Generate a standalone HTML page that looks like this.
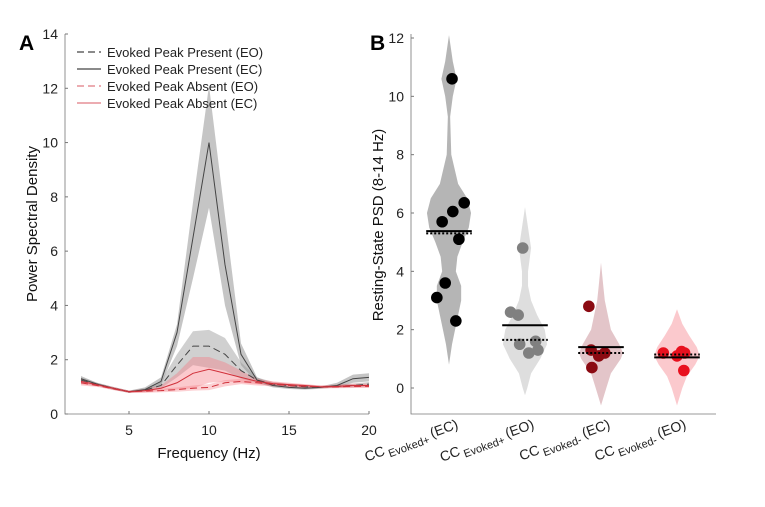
<!DOCTYPE html>
<html><head><meta charset="utf-8"><style>
body{margin:0;background:#fff;}
svg{display:block;font-family:"Liberation Sans",sans-serif;}
</style></head><body>
<svg id="fig" width="765" height="507" viewBox="0 0 765 507">
<g id="pa"></g>
<g id="pb"></g>
</svg>
<script>
// Panel A data
const freqs=[2,3,4,5,6,7,8,9,10,11,12,13,14,15,16,17,18,19,20];
const ecPresMean=[1.3,1.1,0.95,0.82,0.9,1.2,3.0,6.5,10.0,5.5,2.2,1.25,1.05,0.98,0.95,0.98,1.05,1.3,1.35];
const ecPresHi=[1.4,1.15,1.0,0.86,0.98,1.35,3.3,7.8,12.1,7.3,2.6,1.35,1.12,1.05,1.0,1.02,1.15,1.45,1.5];
const ecPresLo=[1.2,1.05,0.9,0.78,0.85,1.05,2.5,5.0,7.6,4.0,1.8,1.15,0.98,0.92,0.9,0.93,0.98,1.15,1.2];
const eoPresMean=[1.25,1.1,0.95,0.82,0.88,1.05,1.8,2.5,2.5,2.2,1.6,1.25,1.1,1.05,1.0,1.0,1.02,1.05,1.1];
const eoPresHi=[1.35,1.15,1.0,0.86,0.95,1.2,2.2,3.05,3.1,2.8,1.9,1.35,1.18,1.1,1.05,1.04,1.08,1.12,1.18];
const eoPresLo=[1.15,1.05,0.9,0.78,0.82,0.95,1.35,1.8,1.7,1.6,1.3,1.15,1.02,0.98,0.95,0.96,0.97,0.98,1.02];
const ecAbsMean=[1.2,1.08,0.95,0.82,0.86,0.95,1.15,1.5,1.65,1.5,1.35,1.2,1.12,1.08,1.05,1.0,1.02,1.05,1.05];
const ecAbsHi=[1.3,1.13,1.0,0.86,0.92,1.05,1.5,2.1,2.1,1.9,1.6,1.3,1.2,1.15,1.1,1.05,1.08,1.12,1.12];
const ecAbsLo=[1.1,1.02,0.9,0.78,0.8,0.85,0.9,0.95,1.15,1.2,1.15,1.1,1.05,1.0,0.98,0.95,0.96,0.98,0.98];
const eoAbsMean=[1.15,1.05,0.93,0.82,0.84,0.86,0.9,0.95,0.98,1.15,1.2,1.15,1.1,1.05,1.02,1.0,1.0,1.02,1.02];
const eoAbsHi=[1.25,1.1,0.98,0.86,0.9,0.93,0.98,1.05,1.1,1.25,1.3,1.25,1.18,1.12,1.08,1.05,1.05,1.08,1.08];
const eoAbsLo=[1.05,1.0,0.88,0.78,0.78,0.8,0.82,0.86,0.88,1.02,1.1,1.05,1.02,0.98,0.96,0.95,0.95,0.96,0.96];
const aYTicks=[0,2,4,6,8,10,12,14];
const aXTicks=[5,10,15,20];
// Panel B data
const groups=["Evoked+ (EC)","Evoked+ (EO)","Evoked- (EC)","Evoked- (EO)"];
const subs=["Evoked+","Evoked+","Evoked-","Evoked-"];
const conds=["(EC)","(EO)","(EC)","(EO)"];
const pts1=[10.6,5.7,6.05,6.35,5.1,3.6,3.1,2.3];
const pts2=[4.8,2.6,2.5,1.6,1.5,1.3,1.2];
const pts3=[2.8,1.3,1.1,1.2,0.7];
const pts4=[1.2,1.1,1.25,1.2,0.6];
const jit1=[0.04,-0.09,0.05,0.2,0.13,-0.05,-0.16,0.09];
const jit2=[-0.03,-0.19,-0.09,0.14,-0.07,0.17,0.05];
const jit3=[-0.16,-0.13,-0.03,0.05,-0.12];
const jit4=[-0.18,0.0,0.06,0.1,0.09];
const means=[5.38,2.15,1.4,1.05];
const medians=[5.3,1.65,1.2,1.15];
const vVals1=[12.1,11.2,10.6,10,9.3,8,7,6.5,6,5.5,5,4.5,4,3.5,3,2.5,2,1.5,0.8];
const vW1=[0,0.05,0.1,0.05,0.015,0.03,0.12,0.24,0.29,0.26,0.18,0.11,0.09,0.16,0.16,0.12,0.08,0.04,0];
const vVals2=[6.2,5.5,4.8,4,3.5,3,2.5,2,1.5,1,0.5,0,-0.25];
const vW2=[0,0.04,0.08,0.04,0.04,0.08,0.16,0.26,0.29,0.2,0.08,0.03,0];
const vVals3=[4.3,3.5,3,2.5,2,1.5,1.2,1,0.5,0,-0.6];
const vW3=[0,0.03,0.05,0.09,0.13,0.24,0.29,0.26,0.13,0.07,0];
const vVals4=[2.7,2.2,1.8,1.4,1.1,0.8,0.4,0,-0.6];
const vW4=[0,0.07,0.16,0.26,0.3,0.24,0.13,0.07,0];
const bYTicks=[0,2,4,6,8,10,12];

const NS="http://www.w3.org/2000/svg";
function mk(p,t,a){const e=document.createElementNS(NS,t);for(const k in a)e.setAttribute(k,a[k]);p.appendChild(e);return e;}
const pa=document.getElementById('pa'), pb=document.getElementById('pb');
const ax=f=>65+(f-1)*16, ay=v=>414-v*(380/14);
function band(hi,lo,fill,name){let d='M'+freqs.map((f,i)=>ax(f)+','+ay(hi[i])).join('L');for(let i=freqs.length-1;i>=0;i--)d+='L'+ax(freqs[i])+','+ay(lo[i]);const e=mk(pa,'path',{d:d+'Z',fill:fill,stroke:'none'});}
function line(m,col,dash,name){const e=mk(pa,'path',{d:'M'+freqs.map((f,i)=>ax(f)+','+ay(m[i])).join('L'),fill:'none',stroke:col,'stroke-width':1,'stroke-dasharray':dash});}
band(ecPresHi,ecPresLo,'rgba(150,150,150,0.55)','band-present-ec');
band(eoPresHi,eoPresLo,'rgba(150,150,150,0.45)','band-present-eo');
band(ecAbsHi,ecAbsLo,'rgba(245,120,130,0.4)','band-absent-ec');
band(eoAbsHi,eoAbsLo,'rgba(245,120,130,0.35)','band-absent-eo');
line(ecPresMean,'#444','none','line-present-ec');
line(eoPresMean,'#444','7,4','line-present-eo');
line(ecAbsMean,'#d0303a','none','line-absent-ec');
line(eoAbsMean,'#d0303a','7,4','line-absent-eo');
mk(pa,'path',{d:`M65,${ay(14)}V414H369`,fill:'none',stroke:'#777','stroke-width':0.8});
aYTicks.forEach(v=>{mk(pa,'line',{x1:65,x2:68,y1:ay(v),y2:ay(v),stroke:'#777'});const t=mk(pa,'text',{x:58,y:ay(v)+5,'text-anchor':'end','font-size':14,fill:'#222'});t.textContent=v;});
aXTicks.forEach(v=>{mk(pa,'line',{x1:ax(v),x2:ax(v),y1:414,y2:411,stroke:'#777'});const t=mk(pa,'text',{x:ax(v),y:435,'text-anchor':'middle','font-size':14,fill:'#222'});t.textContent=v;});
const legs=[["Evoked Peak Present (EO)",'#444','7,4'],["Evoked Peak Present (EC)",'#444','none'],["Evoked Peak Absent (EO)",'#e07a82','7,4'],["Evoked Peak Absent (EC)",'#e07a82','none']];
legs.forEach((l,i)=>{const y=52+i*17;const g=mk(pa,'g',{});mk(g,'line',{x1:77,x2:101,y1:y,y2:y,stroke:l[1],'stroke-width':1.2,'stroke-dasharray':l[2]});const t=mk(g,'text',{x:107,y:y+5,'font-size':13,fill:'#222'});t.textContent=l[0];});
let t=mk(pa,'text',{x:209,y:458,'text-anchor':'middle','font-size':15,fill:'#111'});t.textContent='Frequency (Hz)';
t=mk(pa,'text',{x:0,y:0,'text-anchor':'middle','font-size':15,fill:'#111',transform:'translate(37,224) rotate(-90)'});t.textContent='Power Spectral Density';
t=mk(pa,'text',{x:19,y:50,'font-size':21,'font-weight':'bold',fill:'#000'});t.textContent='A';

const bx=c=>411+(c-0.5)*76, by=v=>388-v*(350/12);
const fills=['rgba(150,150,150,0.7)','rgba(200,200,200,0.6)','rgba(185,110,120,0.4)','rgba(245,120,130,0.4)'];
const pcols=['#000','#808080','#8b0a12','#e8101e'];
const vVals=[vVals1,vVals2,vVals3,vVals4], vWs=[vW1,vW2,vW3,vW4];
const pts=[pts1,pts2,pts3,pts4], jits=[jit1,jit2,jit3,jit4];
groups.forEach((g,gi)=>{const c=gi+1;const vv=vVals[gi],w=vWs[gi];
 let d='M'+vv.map((v,i)=>bx(c+w[i])+','+by(v)).join('L');
 for(let i=vv.length-1;i>=0;i--)d+='L'+bx(c-w[i])+','+by(vv[i]);
 const e=mk(pb,'path',{d:d+'Z',fill:fills[gi],stroke:'none'});
 
 pts[gi].forEach((v,i)=>{const p=mk(pb,'circle',{cx:bx(c+jits[gi][i]),cy:by(v),r:5.8,fill:pcols[gi]});
  });
 const m=mk(pb,'line',{x1:bx(c-0.3),x2:bx(c+0.3),y1:by(means[gi]),y2:by(means[gi]),stroke:'#000','stroke-width':2});
 
 const md=mk(pb,'line',{x1:bx(c-0.3),x2:bx(c+0.3),y1:by(medians[gi]),y2:by(medians[gi]),stroke:'#000','stroke-width':2,'stroke-dasharray':'2,2'});
 
 const lt=mk(pb,'text',{x:0,y:0,'text-anchor':'end','font-size':14,fill:'#222',transform:`translate(${bx(c)+10},428) rotate(-20)`});
 
 const s1=mk(lt,'tspan',{});s1.textContent='CC';
 const s2=mk(lt,'tspan',{'font-size':11,dy:4,dx:3});s2.textContent=subs[gi];
 const s3=mk(lt,'tspan',{dy:-4,dx:3});s3.textContent=conds[gi];
});
mk(pb,'path',{d:`M411,34V414H716`,fill:'none',stroke:'#777','stroke-width':0.8});
bYTicks.forEach(v=>{mk(pb,'line',{x1:411,x2:414,y1:by(v),y2:by(v),stroke:'#777'});const t=mk(pb,'text',{x:404,y:by(v)+5,'text-anchor':'end','font-size':14,fill:'#222'});t.textContent=v;});
t=mk(pb,'text',{x:0,y:0,'text-anchor':'middle','font-size':15,fill:'#111',transform:'translate(383,225) rotate(-90)'});t.textContent='Resting-State PSD (8-14 Hz)';
t=mk(pb,'text',{x:370,y:50,'font-size':21,'font-weight':'bold',fill:'#000'});t.textContent='B';
</script>
</body></html>
